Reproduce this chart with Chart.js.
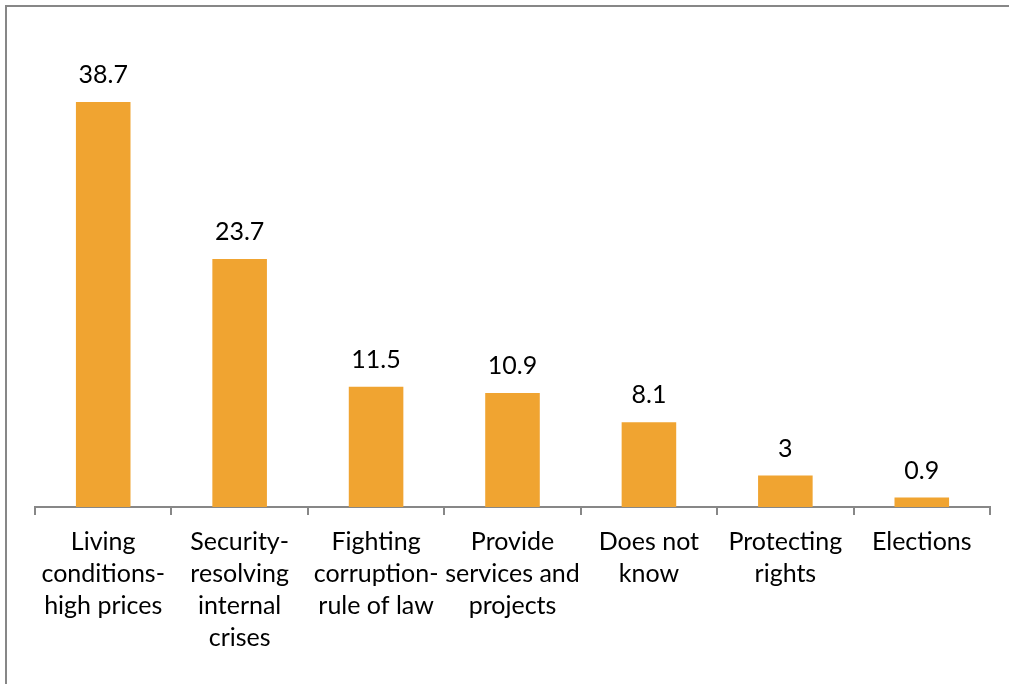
<!DOCTYPE html>
<html>
<head>
<meta charset="utf-8">
<script src="https://cdn.jsdelivr.net/npm/chart.js@4/dist/chart.umd.min.js"></script>
<style>
  html, body { margin: 0; padding: 0; background: #ffffff; overflow: hidden; }
  canvas { display: block; }
</style>
</head>
<body>
<canvas id="chart" width="1009" height="684"></canvas>
<script>
// Categories (multi-line labels) and percentages
const categories = [
  ["Living", "conditions-", "high prices"],
  ["Security-", "resolving", "internal", "crises"],
  ["Fighting", "corruption-", "rule of law"],
  ["Provide", "services and", "projects"],
  ["Does not", "know"],
  ["Protecting", "rights"],
  ["Elections"]
];
const values = [38.7, 23.7, 11.5, 10.9, 8.1, 3, 0.9];

const FONT = "Lato, 'Open Sans', sans-serif";

// Outer frame: left and top edges of the chart box
const frame = {
  id: 'frame',
  beforeDraw(chart) {
    const ctx = chart.ctx;
    ctx.save();
    ctx.fillStyle = '#ffffff';
    ctx.fillRect(0, 0, chart.width, chart.height);
    ctx.strokeStyle = '#878787';
    ctx.lineWidth = 2;
    ctx.beginPath();
    ctx.moveTo(6, chart.height + 2);
    ctx.lineTo(6, 6);
    ctx.lineTo(chart.width + 2, 6);
    ctx.stroke();
    ctx.restore();
  }
};

// Writes each bar's value above it
const valueLabels = {
  id: 'valueLabels',
  afterDatasetsDraw(chart) {
    const ctx = chart.ctx;
    const meta = chart.getDatasetMeta(0);
    ctx.save();
    ctx.font = "25px " + FONT;
    ctx.fillStyle = "#000000";
    ctx.textAlign = "center";
    ctx.textBaseline = "alphabetic";
    meta.data.forEach((bar, i) => {
      ctx.fillText(String(values[i]), bar.x, bar.y - 19);
    });
    ctx.restore();
  }
};

new Chart(document.getElementById('chart'), {
  type: 'bar',
  data: {
    labels: categories,
    datasets: [{
      data: values,
      backgroundColor: '#F0A431',
      borderWidth: 0,
      barPercentage: 0.4,
      categoryPercentage: 1.0
    }]
  },
  options: {
    responsive: false,
    animation: false,
    devicePixelRatio: 1,
    layout: { padding: { left: 35, right: 19, top: 36, bottom: 0 } },
    plugins: {
      legend: { display: false },
      tooltip: { enabled: false }
    },
    scales: {
      x: {
        afterFit(scale) { scale.height = 177; },
        grid: {
          offset: true,
          drawOnChartArea: false,
          drawTicks: true,
          tickLength: 8,
          color: '#878787',
          lineWidth: 2
        },
        border: { display: true, color: '#878787', width: 2 },
        ticks: {
          autoSkip: false,
          maxRotation: 0,
          minRotation: 0,
          padding: 11,
          color: '#000000',
          font: { family: FONT, size: 25, lineHeight: '32px' }
        }
      },
      y: {
        display: false,
        min: 0,
        max: 45
      }
    }
  },
  plugins: [frame, valueLabels]
});
</script>
</body>
</html>
